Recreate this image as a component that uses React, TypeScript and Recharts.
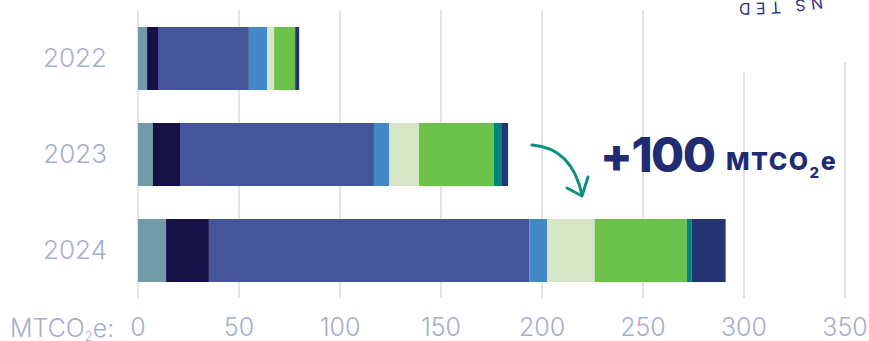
import React from 'react';
import { BarChart, Bar, XAxis, YAxis, CartesianGrid } from 'recharts';

const years = ['2022', '2023', '2024'];
const greyTeal = [4.5, 7.4, 13.9];
const darkNavy = [5.4, 13.4, 21.2];
const indigo = [45, 96, 158.6];
const blue = [9, 7.5, 8.8];
const paleGreen = [3.5, 14.8, 23.6];
const green = [10.4, 37.1, 45.6];
const teal = [0, 4, 2.4];
const navy = [2, 3, 16.8];
const xTicks = [0, 50, 100, 150, 200, 250, 300, 350];

const series = [
  { key: 's1', values: greyTeal, color: '#729aa8' },
  { key: 's2', values: darkNavy, color: '#161046' },
  { key: 's3', values: indigo, color: '#46549a' },
  { key: 's4', values: blue, color: '#4388c7' },
  { key: 's5', values: paleGreen, color: '#d8e4c6' },
  { key: 's6', values: green, color: '#6cc14b' },
  { key: 's7', values: teal, color: '#00857a' },
  { key: 's8', values: navy, color: '#263472' },
];

const data = years.map((year, i) => {
  const row: Record<string, string | number> = { year };
  series.forEach((s) => {
    row[s.key] = s.values[i];
  });
  return row;
});

const FONT = 'Inter, "Noto Sans", sans-serif';
const LABEL = '#a7aecb';
const INK = '#1f2b72';

const App: React.FC = () => {
  return (
    <div style={{ position: 'absolute', left: 0, top: 0, width: 869, height: 341, background: '#fff' }}>
      <BarChart
        width={869}
        height={341}
        layout="vertical"
        data={data}
        margin={{ top: 10, right: 24, bottom: 0, left: 0 }}
      >
        <CartesianGrid horizontal={false} stroke="#e3e3e3" strokeWidth={2} />
        <XAxis
          type="number"
          domain={[0, 350]}
          ticks={xTicks}
          height={43}
          axisLine={false}
          tickLine={false}
          tickSize={0}
          tickMargin={20}
          tick={{ fill: LABEL, fontSize: 25, fontFamily: FONT, fontWeight: 300 }}
        />
        <YAxis
          type="category"
          dataKey="year"
          width={138}
          axisLine={false}
          tickLine={false}
          tickSize={0}
          tickMargin={31}
          tick={{ fill: LABEL, fontSize: 26, fontFamily: FONT, fontWeight: 300 }}
        />
        {series.map((s) => (
          <Bar key={s.key} dataKey={s.key} stackId="a" fill={s.color} barSize={63} isAnimationActive={false} />
        ))}
      </BarChart>
      <svg
        width={869}
        height={341}
        style={{ position: 'absolute', left: 0, top: 0, pointerEvents: 'none' }}
      >
        <defs>
          <path id="badgeArc" d="M 1242 -497 A 500 500 0 0 1 242 -497" />
        </defs>
        <circle cx={781} cy={-60} r={138} fill="#fff" />
        <text fontFamily={FONT} fontSize={16} fill="#2b3580" letterSpacing={5}>
          <textPath href="#badgeArc" startOffset={705}>NS TED</textPath>
        </text>
        <text x={10} y={337} fill={LABEL} fontSize={25} fontFamily={FONT} fontWeight={300}>
          MTCO<tspan fontSize={13} dy={4}>2</tspan><tspan dy={-4}>e:</tspan>
        </text>
        <path d="M 532 145 Q 572 148 582 195" fill="none" stroke="#0e8f80" strokeWidth={3} strokeLinecap="round" />
        <path d="M 567 188 L 582 196 L 588 177" fill="none" stroke="#0e8f80" strokeWidth={3} strokeLinecap="round" strokeLinejoin="round" />
        <text x={600} y={172} fill={INK} fontSize={48} fontFamily={FONT} fontWeight={800} letterSpacing={-1.5}>
          +100
        </text>
        <text x={726} y={170} fill={INK} fontSize={25} fontFamily={FONT} fontWeight={800} letterSpacing={1.5}>
          MTCO<tspan fontSize={15} dy={8}>2</tspan><tspan dy={-8}>e</tspan>
        </text>
      </svg>
    </div>
  );
};

export default App;
